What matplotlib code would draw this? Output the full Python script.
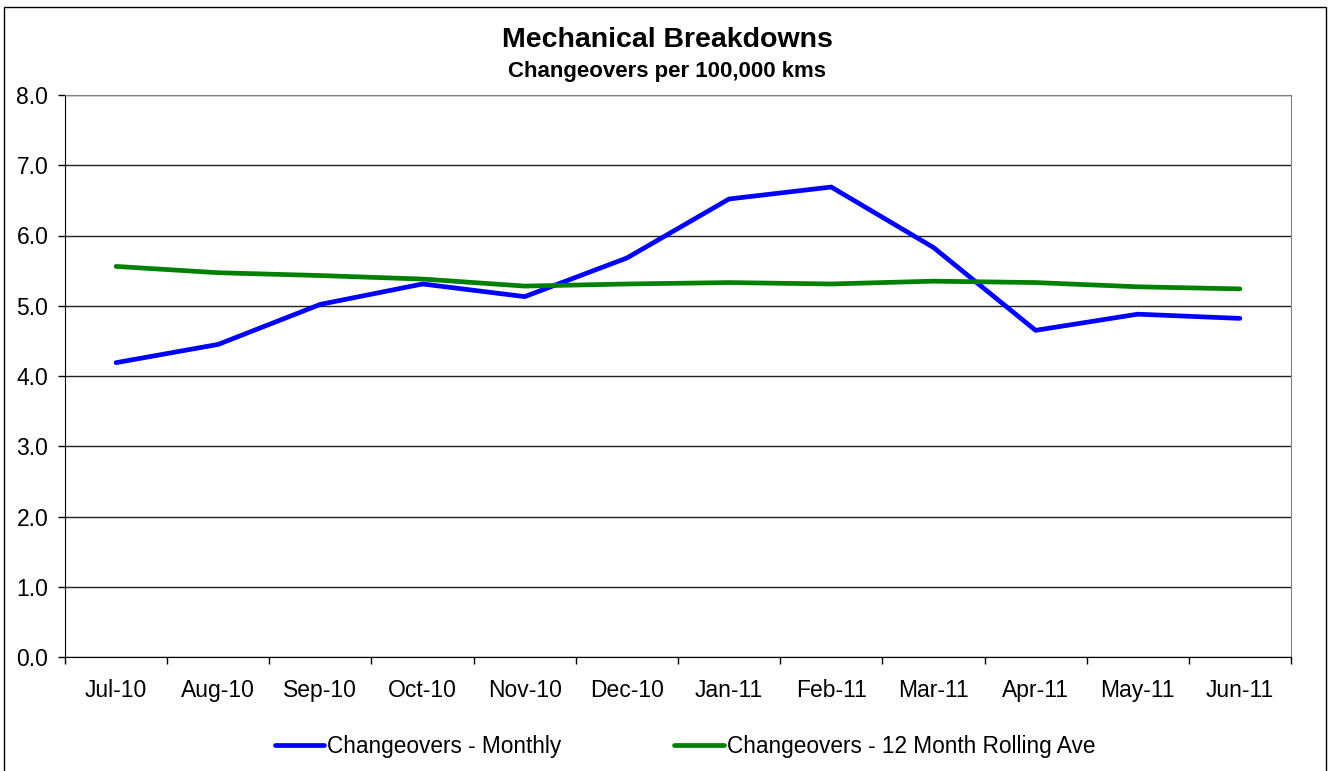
import matplotlib
matplotlib.use('Agg')
import matplotlib.pyplot as plt
import numpy as np
from matplotlib.patches import Rectangle

plt.rcParams['font.family'] = ['Liberation Sans', 'DejaVu Sans']

months = ['Jul-10', 'Aug-10', 'Sep-10', 'Oct-10', 'Nov-10', 'Dec-10',
          'Jan-11', 'Feb-11', 'Mar-11', 'Apr-11', 'May-11', 'Jun-11']
monthly = [4.19, 4.45, 5.02, 5.31, 5.13, 5.68, 6.52, 6.69, 5.83, 4.65, 4.88, 4.82]
rolling = [5.56, 5.47, 5.43, 5.38, 5.28, 5.31, 5.33, 5.31, 5.35, 5.33, 5.27, 5.24]

fig = plt.figure(figsize=(13.3, 7.71), dpi=100)
ax = fig.add_axes([65/1330, 1-657/771, (1291-65)/1330, (657-95)/771])

x = np.arange(len(months))
ax.plot(x, monthly, color='#0000ff', linewidth=3.4, solid_capstyle='round',
        label='Changeovers - Monthly', zorder=3)
ax.plot(x, rolling, color='#008000', linewidth=3.4, solid_capstyle='round',
        label='Changeovers - 12 Month Rolling Ave', zorder=3)

ax.set_xlim(-0.5, len(months) - 0.5)
ax.set_ylim(0, 8)
ax.set_yticks(np.arange(0, 8.1, 1.0))
ax.set_yticklabels([f'{v:.1f}' for v in np.arange(0, 8.1, 1.0)])
ax.yaxis.grid(True, color='#222222', linewidth=1)
ax.set_axisbelow(True)

# ticks at category boundaries, labels at centres
ax.set_xticks(np.arange(-0.5, len(months), 1.0))
ax.set_xticklabels([])
ax.set_xticks(x, minor=True)
ax.set_xticklabels(months, minor=True)
ax.tick_params(axis='x', which='major', direction='out', length=5, width=1)
ax.tick_params(axis='x', which='minor', length=0, pad=16, labelsize=16.5)
ax.tick_params(axis='y', direction='out', length=5, width=1, pad=7, labelsize=16.5)

ax.spines['left'].set_color('black')
ax.spines['bottom'].set_color('black')
ax.spines['top'].set_color('#808080')
ax.spines['right'].set_color('#808080')

fig.text(667/1330, 1-40/771, 'Mechanical Breakdowns', ha='center', va='center',
         fontsize=20.5, fontweight='bold')
fig.text(667/1330, 1-72/771, 'Changeovers per 100,000 kms', ha='center', va='center',
         fontsize=16, fontweight='bold')

fig.legend(loc='center', bbox_to_anchor=(685/1330, 1-746/771), ncol=2, frameon=False,
           fontsize=16.3, handlelength=2.2, handletextpad=0.12, columnspacing=5.0)

fig.patches.append(Rectangle((4/1330, -0.01), 1322/1330, 1.01-7/771,
                             transform=fig.transFigure, fill=False,
                             edgecolor='black', linewidth=1))

fig.savefig('out.png', dpi=100)
